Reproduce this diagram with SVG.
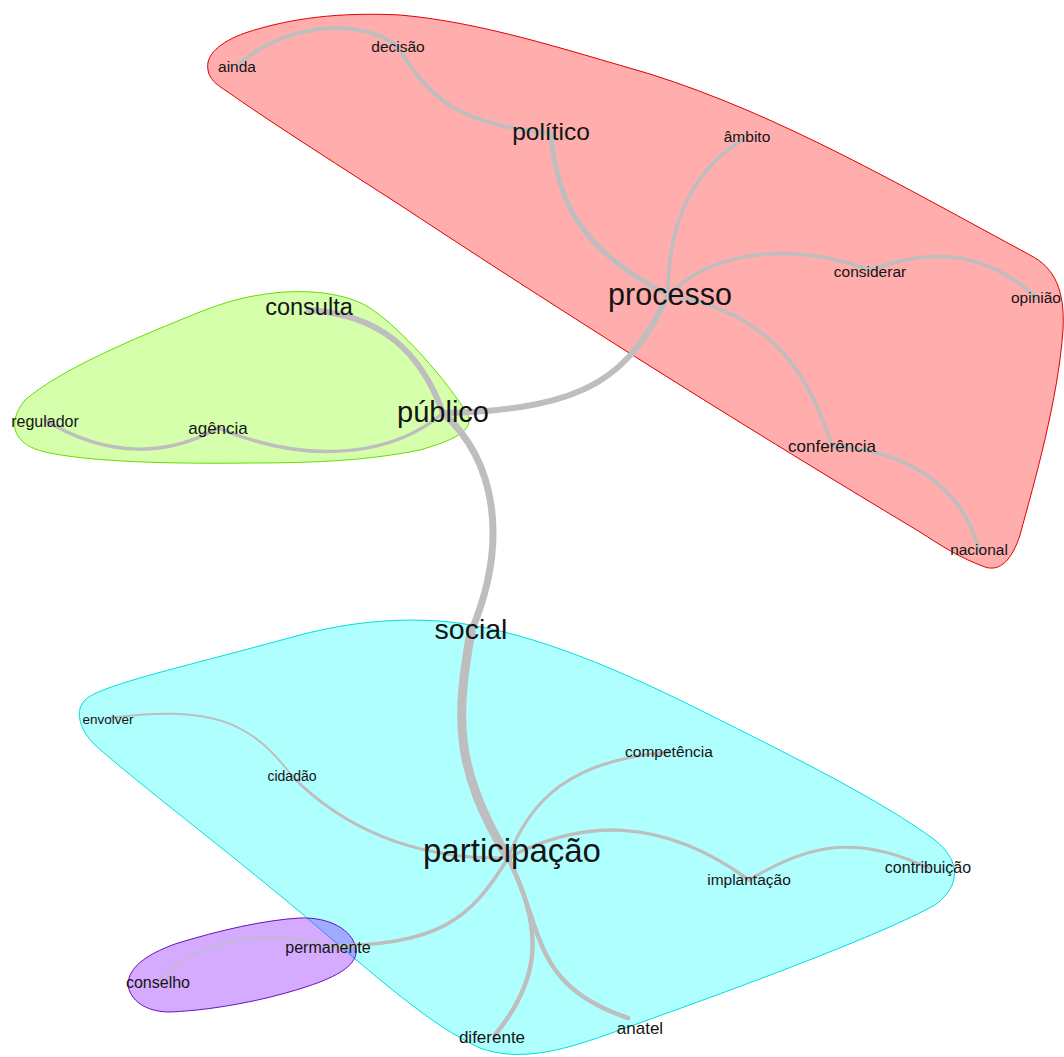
<svg xmlns="http://www.w3.org/2000/svg" width="1064" height="1057" viewBox="0 0 1064 1057">
<style>
.hull{stroke-width:1}
.e{fill:none;stroke:#BEBEBE;stroke-linecap:round}
text{font-family:"Liberation Sans",Arial,sans-serif;fill:#141414;text-anchor:middle}
</style>
<rect width="1064" height="1057" fill="#ffffff"/>
<g id="groups">
<path id="grp-red" class="hull" fill="#ff0000" fill-opacity="0.32" stroke="#e00000" d="M 208 70 C 205 55, 220 42, 245 33 C 290 18, 340 12, 400 15 C 480 22, 560 48, 650 74 C 780 115, 900 185, 1030 255 C 1055 268, 1065 290, 1063 330 C 1058 400, 1035 480, 1020 535 C 1012 560, 1000 572, 985 567 C 960 558, 940 545, 920 532 C 800 460, 620 350, 400 205 C 330 160, 260 115, 228 92 C 215 84, 209 78, 208 70 Z"/>
<path id="grp-green" class="hull" fill="#7fff00" fill-opacity="0.33" stroke="#66dd00" d="M 260 295 C 300 288, 340 292, 365 305 C 400 325, 450 385, 468 415 C 474 430, 455 440, 420 450 C 370 460, 320 463, 250 463 C 170 464, 90 462, 45 452 C 15 445, 5 425, 25 400 C 60 370, 130 340, 200 312 C 225 302, 245 297, 260 295 Z"/>
<path id="grp-cyan" class="hull" fill="#00ffff" fill-opacity="0.31" stroke="#00dede" d="M 85 700 C 100 685, 180 668, 300 635 C 350 622, 400 617, 450 622 C 520 630, 600 660, 700 710 C 800 760, 880 800, 935 840 C 960 860, 962 885, 935 905 C 880 935, 760 980, 620 1030 C 560 1052, 520 1062, 480 1048 C 430 1025, 380 980, 300 912 C 220 845, 140 785, 95 745 C 78 728, 75 710, 85 700 Z"/>
<path id="grp-purple" class="hull" fill="#8000ff" fill-opacity="0.33" stroke="#6a10c0" d="M 300 918 C 330 917, 352 930, 356 948 C 358 962, 345 972, 320 982 C 280 997, 220 1010, 170 1012 C 145 1012, 130 1000, 128 985 C 128 968, 145 955, 175 944 C 220 930, 265 920, 300 918 Z"/>
</g>
<g id="connectors">
<path class="e" stroke-width="4" d="M 237 66 C 280 25, 360 15, 398 47"/>
<path class="e" stroke-width="4" d="M 398 47 C 430 100, 460 125, 551 133"/>
<path class="e" stroke-width="5" d="M 551 133 C 556 200, 580 250, 668 295"/>
<path class="e" stroke-width="3.5" d="M 747 137 C 700 165, 668 210, 668 295"/>
<path class="e" stroke-width="3.5" d="M 668 295 C 720 245, 800 245, 870 270"/>
<path class="e" stroke-width="3.5" d="M 870 270 C 940 245, 990 255, 1037 298"/>
<path class="e" stroke-width="3.5" d="M 668 295 C 760 310, 805 360, 832 446"/>
<path class="e" stroke-width="3.5" d="M 832 446 C 900 450, 960 480, 979 550"/>
<path class="e" stroke-width="6" d="M 668 295 C 630 375, 590 410, 443 413"/>
<path class="e" stroke-width="6" d="M 309 310 C 380 315, 420 350, 443 413"/>
<path class="e" stroke-width="7" d="M 443 413 C 495 460, 510 540, 471 632"/>
<path class="e" stroke-width="3.5" d="M 443 413 C 400 450, 320 470, 218 428"/>
<path class="e" stroke-width="3.5" d="M 218 428 C 170 455, 110 460, 45 420"/>
<path class="e" stroke-width="9" d="M 471 632 C 455 720, 455 770, 508 858"/>
<path class="e" stroke-width="4.5" d="M 508 858 C 545 930, 540 980, 495 1035"/>
<path class="e" stroke-width="4.5" d="M 508 858 C 545 930, 530 985, 628 1018"/>
<path class="e" stroke-width="3" d="M 508 858 C 410 860, 340 825, 292 776"/>
<path class="e" stroke-width="2" d="M 292 776 C 250 720, 210 705, 108 718"/>
<path class="e" stroke-width="3" d="M 508 858 C 530 800, 570 760, 669 752"/>
<path class="e" stroke-width="3.5" d="M 508 858 C 580 820, 660 815, 749 880"/>
<path class="e" stroke-width="3" d="M 749 880 C 800 850, 850 830, 928 868"/>
<path class="e" stroke-width="3.5" d="M 508 858 C 470 920, 440 945, 328 946"/>
<path class="e" stroke-width="3" stroke-opacity="0.55" d="M 328 946 C 270 930, 200 935, 158 982"/>
</g>
<g id="n-ainda"><text x="237" y="72" font-size="15.5">ainda</text></g>
<g id="n-decisao"><text x="398" y="52" font-size="15.5">decisão</text></g>
<g id="n-politico"><text x="551" y="140" font-size="24.5">político</text></g>
<g id="n-ambito"><text x="747" y="142" font-size="15.5">âmbito</text></g>
<g id="n-processo"><text x="670" y="305" font-size="30.5">processo</text></g>
<g id="n-considerar"><text x="870" y="277" font-size="15.5">considerar</text></g>
<g id="n-opiniao"><text x="1036" y="303" font-size="15.5">opinião</text></g>
<g id="n-conferencia"><text x="832" y="452" font-size="17">conferência</text></g>
<g id="n-nacional"><text x="979" y="555" font-size="15.5">nacional</text></g>
<g id="n-consulta"><text x="309" y="315" font-size="23.5">consulta</text></g>
<g id="n-publico"><text x="443" y="422" font-size="29">público</text></g>
<g id="n-regulador"><text x="45" y="427" font-size="16">regulador</text></g>
<g id="n-agencia"><text x="218" y="434" font-size="17">agência</text></g>
<g id="n-social"><text x="471" y="639" font-size="28.5">social</text></g>
<g id="n-envolver"><text x="108" y="724" font-size="13.5">envolver</text></g>
<g id="n-cidadao"><text x="292" y="781" font-size="14">cidadão</text></g>
<g id="n-competencia"><text x="669" y="757" font-size="15.5">competência</text></g>
<g id="n-participacao"><text x="512" y="862" font-size="33">participação</text></g>
<g id="n-implantacao"><text x="749" y="885" font-size="15.5">implantação</text></g>
<g id="n-contribuicao"><text x="928" y="873" font-size="16">contribuição</text></g>
<g id="n-permanente"><text x="328" y="953" font-size="16">permanente</text></g>
<g id="n-conselho"><text x="158" y="988" font-size="16">conselho</text></g>
<g id="n-anatel"><text x="640" y="1034" font-size="17">anatel</text></g>
<g id="n-diferente"><text x="492" y="1043" font-size="17">diferente</text></g>
</svg>
